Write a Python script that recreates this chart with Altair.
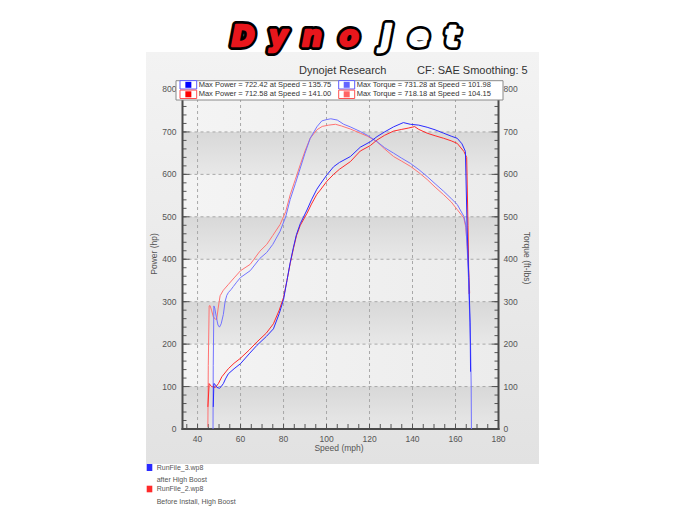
import altair as alt
import pandas as pd

# ---------------- data ----------------
# Run 3 (after High Boost) - blue
blue_power_speed = [47.3, 47.6, 48.2, 49.0, 50.2, 51.0, 52.0, 53.0, 54.3, 57.0, 60.0, 64.0, 67.6, 72.0, 75.3, 78.0,
                    80.0, 81.6, 83.1, 84.6, 86.0, 87.8, 90.9, 93.0, 95.5, 97.1, 100.2, 103.3, 106.0, 111.1, 115.7,
                    120.4, 123.5, 127.0, 131.2, 135.75, 139.0, 142.9, 146.8, 150.5, 154.5, 158.0, 160.8, 163.0,
                    164.6, 165.4, 166.2, 166.8, 167.0]
blue_power_hp = [52, 107, 105, 98, 96, 100, 107, 118, 130, 142, 154, 177, 197, 218, 236, 272,
                 305, 350, 392, 428, 458, 484, 516, 540, 565, 577, 599, 618, 628, 642, 664,
                 677, 689, 700, 712, 722, 718, 716, 711, 705, 697, 690, 685, 672,
                 654, 474, 357, 250, 135]
blue_torque_speed = [47.2, 47.3, 47.6, 48.0, 48.8, 49.5, 50.2, 51.0, 52.0, 52.8, 53.6, 54.4, 55.5, 56.7, 58.2,
                     60.0, 64.5, 69.0, 72.2, 75.0, 78.4, 81.0, 83.1, 85.5, 87.8, 90.0, 92.4, 95.5, 97.8, 100.0,
                     101.98, 105.0, 108.0, 111.0, 115.7, 119.0, 123.5, 127.0, 131.2, 135.0, 139.0, 143.0, 146.8,
                     150.5, 154.5, 158.0, 160.8, 163.9, 164.8, 165.4, 166.0, 166.7, 167.0, 167.3, 167.4]
blue_torque_ftlb = [0, 150, 290, 285, 262, 245, 240, 248, 270, 300, 315, 322, 328, 336, 346,
                    357, 373, 402, 416, 435, 466, 500, 541, 578, 615, 650, 685, 712, 726, 729,
                    731, 728, 718, 712, 701, 692, 677, 663, 650, 638, 626, 611, 595,
                    578, 560, 543, 529, 501, 480, 430, 360, 250, 201, 100, 0]

# Run 2 (Before Install, High Boost) - red
red_power_speed = [44.8, 45.4, 46.5, 47.4, 48.3, 49.7, 51.3, 54.3, 57.0, 59.8, 64.0, 67.6, 72.0, 75.3, 78.0, 80.0,
                   81.6, 83.1, 84.6, 86.0, 87.8, 90.9, 93.0, 95.5, 97.1, 100.2, 103.3, 106.0, 111.1, 115.7, 120.4,
                   123.5, 127.0, 131.2, 135.0, 138.0, 141.0, 142.9, 146.8, 150.5, 154.5, 158.0, 160.8, 163.9,
                   165.2, 165.8, 166.3]
red_power_hp = [52, 107, 100, 99, 98, 107, 123, 142, 155, 166, 186, 205, 226, 248, 280, 310,
                350, 390, 425, 455, 480, 508, 530, 553, 563, 584, 600, 612, 630, 655, 668,
                681, 692, 702, 706, 709, 712.6, 706, 697, 691, 685, 679, 673, 654,
                640, 480, 318]
red_torque_speed = [44.8, 45.0, 45.4, 45.8, 46.5, 47.3, 48.2, 48.9, 49.6, 50.5, 52.0, 54.4, 57.0, 60.0, 64.5,
                    69.0, 72.2, 75.0, 78.4, 81.0, 83.1, 85.5, 87.8, 90.0, 92.4, 95.5, 98.0, 101.0, 104.15, 107.0,
                    111.0, 115.7, 119.0, 123.5, 127.0, 131.2, 135.0, 139.0, 143.0, 146.8, 150.5, 154.5, 158.0,
                    160.8, 163.9, 164.8, 165.6, 166.2, 166.6]
red_torque_ftlb = [5, 150, 290, 291, 280, 265, 259, 258, 285, 314, 327, 341, 356, 373, 388,
                   419, 435, 456, 482, 512, 552, 588, 623, 655, 685, 705, 713, 716, 718, 714,
                   707, 697, 690, 677, 660, 642, 631, 619, 604, 588, 570, 552, 535,
                   517, 497, 475, 420, 360, 320]

x_label_values = [40, 60, 80, 100, 120, 140, 160, 180]
y_label_values = [0, 100, 200, 300, 400, 500, 600, 700, 800]
x_minor_ticks = list(range(35, 181, 5))
y_minor_ticks = list(range(0, 801, 20))
band_low = [0, 200, 400, 600]
band_high = [100, 300, 500, 700]

legend_texts = ["Max Power = 722.42 at Speed = 135.75",
                "Max Power = 712.58 at Speed = 141.00",
                "Max Torque = 731.28 at Speed = 101.98",
                "Max Torque = 718.18 at Speed = 104.15"]
legend_swatch = ["#0000ff", "#ff0000", "#6464ff", "#ff6464"]
legend_frame = ["#5a5aff", "#ff5050", "#5a5aff", "#ff5050"]

run_names = ["RunFile_3.wp8", "RunFile_2.wp8"]
run_notes = ["after High Boost", "Before Install, High Boost"]

logo_letters = ["D", "y", "n", "o", "j", "e", "t"]

# ---------------- chart ----------------
W, H = 316, 348
FONT = "Liberation Sans"
xs = alt.Scale(domain=[33, 180], nice=False, zero=False)
ys = alt.Scale(domain=[0, 820], nice=False, zero=False)
one = pd.DataFrame({"a": [0]})


def vrect(x, x2, y, y2, **kw):
    return alt.Chart(one).mark_rect(**kw).encode(
        x=alt.value(x), x2=alt.value(x2), y=alt.value(y), y2=alt.value(y2))


def vtext(txt, x, y, **kw):
    return alt.Chart(one).mark_text(text=txt, font=FONT, **kw).encode(x=alt.value(x), y=alt.value(y))


layers = []

# outer gray panel
layers.append(vrect(-36.5, 356.5, -29, 383, fill=alt.LinearGradient(
    gradient="linear", x1=0, y1=0, x2=0, y2=1,
    stops=[alt.GradientStop(color="#f3f3f3", offset=0), alt.GradientStop(color="#e2e2e2", offset=1)])))

# plot background
layers.append(vrect(0, W, 0, H, fill=alt.LinearGradient(
    gradient="linear", x1=0, y1=0, x2=1, y2=0,
    stops=[alt.GradientStop(color="#f4f4f4", offset=0), alt.GradientStop(color="#ececec", offset=1)])))

bands = pd.DataFrame({"lo": band_low, "hi": band_high})
layers.append(alt.Chart(bands).mark_rect(fill=alt.LinearGradient(
    gradient="linear", x1=0, y1=0, x2=0, y2=1,
    stops=[alt.GradientStop(color="#d8d8d8", offset=0), alt.GradientStop(color="#e8e8e8", offset=1)])).encode(
    y=alt.Y("hi:Q", scale=ys, axis=None), y2="lo:Q", x=alt.value(0), x2=alt.value(W)))

# dashed grid
gx = pd.DataFrame({"v": x_label_values[:-1]})
gy = pd.DataFrame({"v": y_label_values[1:]})
layers.append(alt.Chart(gx).mark_rule(color="#a8a8a8", strokeDash=[3, 3], strokeWidth=1).encode(
    x=alt.X("v:Q", scale=xs, axis=None), y=alt.value(0), y2=alt.value(H)))
layers.append(alt.Chart(gy).mark_rule(color="#a8a8a8", strokeDash=[3, 3], strokeWidth=1).encode(
    y=alt.Y("v:Q", scale=ys, axis=None), x=alt.value(0), x2=alt.value(W)))

# ticks (inside)
tx = pd.DataFrame({"v": x_minor_ticks})
ty = pd.DataFrame({"v": y_minor_ticks})
tym = pd.DataFrame({"v": y_label_values})
layers.append(alt.Chart(tx).mark_rule(color="#555555", strokeWidth=1).encode(
    x=alt.X("v:Q", scale=xs, axis=None), y=alt.value(H), y2=alt.value(H - 5)))
for x0, x1 in [(0, 4), (W, W - 4)]:
    layers.append(alt.Chart(ty).mark_rule(color="#555555", strokeWidth=1).encode(
        y=alt.Y("v:Q", scale=ys, axis=None), x=alt.value(x0), x2=alt.value(x1)))
for x0, x1 in [(0, 7), (W, W - 7)]:
    layers.append(alt.Chart(tym).mark_rule(color="#555555", strokeWidth=1).encode(
        y=alt.Y("v:Q", scale=ys, axis=None), x=alt.value(x0), x2=alt.value(x1)))

# axis lines
layers.append(vrect(-1, 1, 0, H + 1, fill="#4a4a4a"))
layers.append(vrect(W - 1, W + 1, 0, H + 1, fill="#4a4a4a"))
layers.append(vrect(-1, W + 1, H - 1, H + 1, fill="#4a4a4a"))


# curves
def curve(speed, val, color):
    df = pd.DataFrame({"speed": speed, "val": val, "i": range(len(speed))})
    return alt.Chart(df).mark_line(color=color, strokeWidth=1, clip=True).encode(
        x=alt.X("speed:Q", scale=xs, axis=None),
        y=alt.Y("val:Q", scale=ys, axis=None),
        order="i:Q")


layers.append(curve(red_torque_speed, red_torque_ftlb, "#ff7272"))
layers.append(curve(red_power_speed, red_power_hp, "#ff2a2a"))
layers.append(curve(blue_torque_speed, blue_torque_ftlb, "#7272ff"))
layers.append(curve(blue_power_speed, blue_power_hp, "#2a2aff"))

# axis labels
xl = pd.DataFrame({"v": x_label_values, "t": [str(v) for v in x_label_values]})
yl = pd.DataFrame({"v": y_label_values, "t": [str(v) for v in y_label_values]})
layers.append(alt.Chart(xl).mark_text(font=FONT, fontSize=8.5, color="#555555", baseline="middle").encode(
    x=alt.X("v:Q", scale=xs, axis=None), y=alt.value(H + 10), text="t:N"))
layers.append(alt.Chart(yl).mark_text(font=FONT, fontSize=8.5, color="#555555", align="right", baseline="middle").encode(
    y=alt.Y("v:Q", scale=ys, axis=None), x=alt.value(-6), text="t:N"))
layers.append(alt.Chart(yl).mark_text(font=FONT, fontSize=8.5, color="#555555", align="left", baseline="middle").encode(
    y=alt.Y("v:Q", scale=ys, axis=None), x=alt.value(W + 5), text="t:N"))

layers.append(vtext("Speed (mph)", 156.5, 367, fontSize=8.5, color="#555555", baseline="middle"))
layers.append(vtext("Power (hp)", -28.5, 173, fontSize=8.5, color="#555555", baseline="middle", angle=270))
layers.append(vtext("Torque (ft-lbs)", 344, 177, fontSize=8.5, color="#555555", baseline="middle", angle=90))

# header texts
layers.append(vtext("Dynojet Research", 116.5, -10.5, fontSize=11, color="#333333", align="left"))
layers.append(vtext("CF: SAE Smoothing: 5", 234.5, -10.5, fontSize=11, color="#333333", align="left"))

# inside legend box
layers.append(vrect(-6.5, 320.5, -0.3, 19, fill="white", stroke="#8a8a8a", strokeWidth=1))
rows_y = [3.8, 13.3]
cols = [(-2.5, 14.2, 16.2), (156.2, 172.2, 174.2)]
k = 0
for ci, (fx0, fx1, tx0) in enumerate(cols):
    for ri in range(2):
        yy = rows_y[ri]
        layers.append(vrect(fx0, fx1, yy - 4.2, yy + 4.2, fill="white", stroke=legend_frame[k], strokeWidth=1))
        cx = (fx0 + fx1) / 2
        layers.append(vrect(cx - 3, cx + 3, yy - 3, yy + 3, fill=legend_swatch[k]))
        layers.append(vtext(legend_texts[k], tx0, yy, fontSize=7.5, color="#333333", align="left", baseline="middle"))
        k += 1

# logo: black silhouette under heavy coloured letters
logo_x = [60.5, 95.5, 129.5, 166.5, 203.5, 236.5, 269.5]
logo_fill = ["#e8161c"] * 4 + ["#ffffff"] * 3
for L, lx in zip(logo_letters, logo_x):
    layers.append(alt.Chart(one).mark_text(text=L, font="DejaVu Sans", fontSize=28, fontWeight="bold",
                                           fontStyle="italic", fill="black", stroke="black", strokeWidth=8,
                                           strokeJoin="round", align="center", baseline="alphabetic").encode(
        x=alt.value(lx), y=alt.value(-35)))
for L, lx, lf in zip(logo_letters, logo_x, logo_fill):
    layers.append(alt.Chart(one).mark_text(text=L, font="DejaVu Sans", fontSize=28, fontWeight="bold",
                                           fontStyle="italic", fill=lf, stroke=lf, strokeWidth=2.5,
                                           strokeJoin="round", align="center", baseline="alphabetic").encode(
        x=alt.value(lx), y=alt.value(-35)))

# bottom run legend
layers.append(vrect(-35.8, -30.2, 383, 390, fill="#2a2aff"))
layers.append(vrect(-35.8, -30.2, 404.7, 411.3, fill="#ff2a2a"))
for txt, yy in zip([run_names[0], run_notes[0], run_names[1], run_notes[1]], [387, 399, 408.3, 420.7]):
    layers.append(vtext(txt, -25.8, yy, fontSize=7, color="#555555", align="left", baseline="middle"))

chart = alt.layer(*layers).properties(
    width=W, height=H,
    autosize=alt.AutoSizeParams(type="none"),
    padding={"left": 174.5, "top": 73, "right": 181.5, "bottom": 79},
    background="white",
).configure_view(stroke=None)

chart.save("out.html", embed_options={"renderer": "svg", "actions": False})
